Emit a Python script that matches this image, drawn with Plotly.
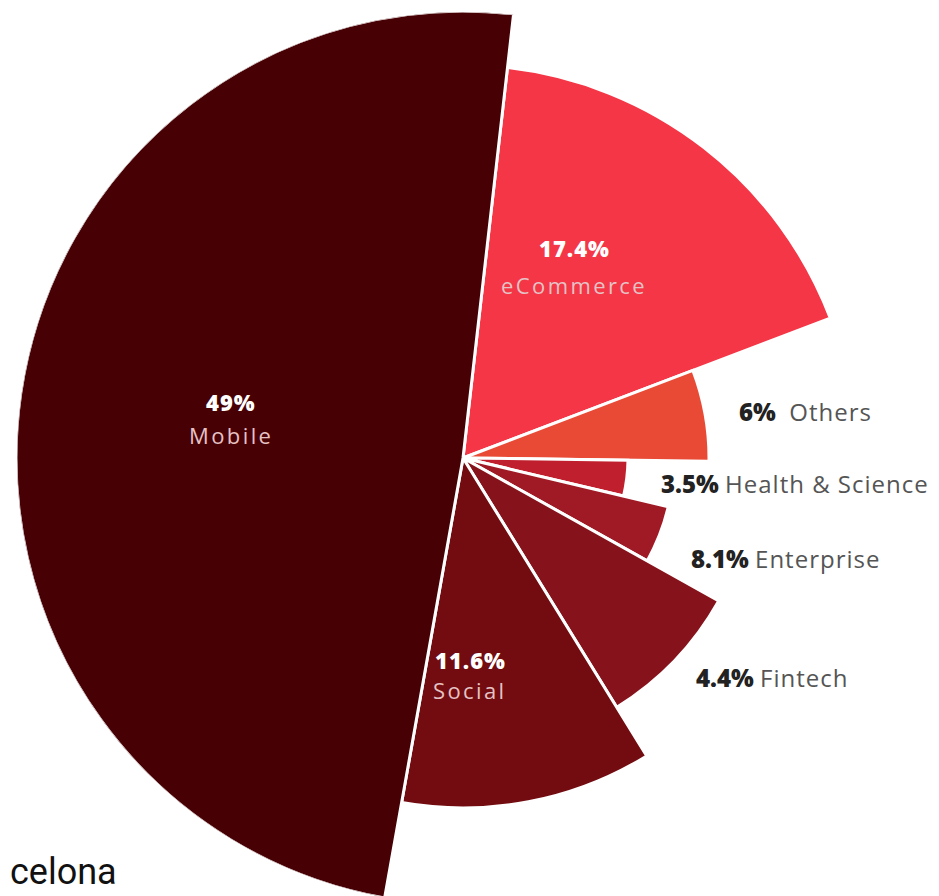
import plotly.graph_objects as go

# ---- data (slice order clockwise from the top) ----
categories = ["eCommerce", "Others", "Health & Science", "Fintech", "Enterprise", "Social", "Mobile"]
shares = [17.4, 6.0, 3.5, 4.4, 8.1, 11.6, 49.0]

# label texts as printed on the chart
inside_pcts = ["49%", "17.4%", "11.6%"]
inside_names = ["Mobile", "eCommerce", "Social"]
outside_pcts = ["6%", "3.5%", "8.1%", "4.4%"]
outside_names = ["&nbsp;Others", "Health & Science", "Enterprise", "Fintech"]
footer_text = "celona"

# ---- styles ----
radii = [393, 246, 165, 211, 293, 350, 447]
colors = ["#F43647", "#E84A36", "#C0202E", "#A01A25", "#86131B", "#720C10", "#470004"]
start_angle = 6.5

W, H = 939, 896
OFF = 8  # page body margin
cx, cy = 463 - OFF, 458 - OFF  # pixel centre in figure coords
P = min(cy, H - cy)

widths = [s * 3.6 for s in shares]
thetas = []
acc = start_angle
for w in widths:
    thetas.append(acc + w / 2)
    acc += w

fig = go.Figure()
fig.add_trace(go.Barpolar(
    r=radii, theta=thetas, width=widths,
    marker=dict(color=colors, line=dict(color="white", width=3)),
    hoverinfo="skip",
))

dom_x = [(cx - P) / W, (cx + P) / W]
dom_y = [1 - (cy + P) / H, 1 - (cy - P) / H]

fig.update_layout(
    width=W, height=H,
    margin=dict(l=0, r=0, t=0, b=0),
    paper_bgcolor="white",
    showlegend=False,
    polar=dict(
        domain=dict(x=dom_x, y=dom_y),
        bgcolor="white",
        radialaxis=dict(range=[0, P], visible=False, showgrid=False),
        angularaxis=dict(rotation=90, direction="clockwise", visible=False, showgrid=False),
        bargap=0,
    ),
)

def px(x):
    return (x - OFF) / W

def py(y):
    return 1 - (y - OFF) / H

FONT = "Open Sans"

def spaced(t, ls):
    return "<span style='letter-spacing:%spx'>%s</span>" % (ls, t)

inside_pos = [(231, 402, 435), (574, 248, 285), (470, 660, 690)]
for pct, name, (x, y1, y2) in zip(inside_pcts, inside_names, inside_pos):
    fig.add_annotation(x=px(x), y=py(y1), xref="paper", yref="paper", xanchor="center", yanchor="middle",
                       text=spaced(pct, 1), showarrow=False,
                       font=dict(family=FONT, size=22, color="white", weight=800))
    fig.add_annotation(x=px(x), y=py(y2), xref="paper", yref="paper", xanchor="center", yanchor="middle",
                       text=spaced(name, 2.4), showarrow=False,
                       font=dict(family=FONT, size=22, color="#E6C2C4"))

outside_pos = [(737, 411), (659, 483), (689, 558), (694, 677)]
for pct, name, (x, y) in zip(outside_pcts, outside_names, outside_pos):
    fig.add_annotation(x=px(x), y=py(y), xref="paper", yref="paper", xanchor="left", yanchor="middle",
                       text="<span style='color:#222222;font-weight:800'>" + pct + "</span> "
                            + spaced(name, 1),
                       showarrow=False, font=dict(family=FONT, size=24, color="#555555"))

fig.add_annotation(x=px(8), y=py(895), xref="paper", yref="paper", xanchor="left", yanchor="bottom",
                   text=footer_text, showarrow=False,
                   font=dict(family="Roboto", size=36, color="#111111"))

fig.write_html("out.html")
